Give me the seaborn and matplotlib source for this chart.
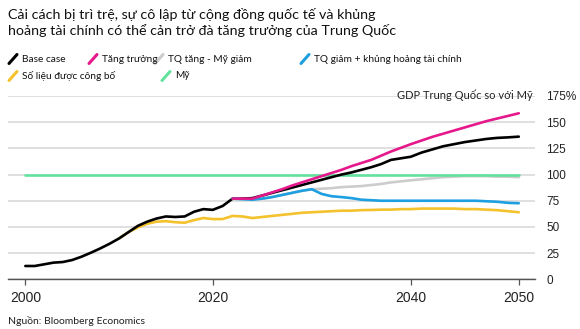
import numpy as np
import pandas as pd
import matplotlib
matplotlib.use("Agg")
import matplotlib.pyplot as plt
from matplotlib.lines import Line2D
import seaborn as sns

# ---------------- data ----------------
hist_years = list(range(2000, 2023))
base_hist = [12.7, 12.7, 14.3, 15.9, 16.5, 18.4, 21.6, 25.4, 29.5, 34.0, 39.0,
             45.0, 51.0, 55.0, 58.0, 60.0, 59.5, 60.0, 64.5, 67.0, 66.3, 70.0, 77.0]

proj_years = list(range(2022, 2051))
base_proj = [77.0, 77.0, 77.5, 80.0, 82.5, 85.0, 87.5, 90.0, 92.5, 95.0, 97.5,
             100.0, 102.0, 104.5, 107.0, 110.0, 114.0, 115.5, 117.0, 121.0, 124.0,
             127.0, 129.0, 131.0, 132.5, 134.0, 135.0, 135.5, 136.2]
growth = [77.0, 77.0, 77.0, 80.0, 83.0, 86.0, 89.5, 92.5, 95.5, 98.5, 101.5,
          104.5, 108.0, 111.0, 114.0, 118.0, 122.0, 125.5, 129.0, 132.5, 136.0,
          139.0, 142.0, 145.0, 148.0, 151.0, 153.5, 156.0, 158.5]
cn_up_us_down = [77.0, 76.5, 76.0, 77.0, 78.5, 80.5, 82.5, 84.5, 86.0, 86.5, 87.0,
                 88.0, 88.5, 89.0, 90.0, 91.0, 92.5, 93.5, 94.5, 95.5, 96.5,
                 97.5, 98.0, 98.5, 98.5, 98.5, 98.0, 98.0, 97.5]
cn_down_crisis = [77.0, 76.5, 76.0, 77.0, 78.5, 80.5, 82.5, 84.5, 86.0, 81.5, 79.3,
                  78.5, 77.5, 76.0, 75.5, 75.0, 75.0, 75.0, 75.0, 75.0, 75.0,
                  75.0, 75.0, 75.0, 75.0, 74.5, 74.0, 73.0, 72.6]

pub_years = list(range(2010, 2051))
published = [39.0, 45.0, 49.5, 53.0, 55.0, 55.5, 54.5, 54.0, 56.5, 58.5, 57.5,
             57.5, 60.5, 60.0, 58.5, 59.5, 60.5, 61.5, 62.5, 63.5, 64.0,
             64.5, 65.0, 65.5, 65.5, 66.0, 66.2, 66.5, 66.5, 67.0, 67.0,
             67.5, 67.5, 67.5, 67.5, 67.0, 67.0, 66.5, 66.0, 65.0, 64.0]

us_years = [2000, 2050]
us = [100.0, 100.0]

series_names = ["Base case", "Tăng trưởng", "TQ tăng - Mỹ giảm",
                "TQ giảm + khủng hoảng tài chính", "Số liệu được công bố", "Mỹ"]
colors = ["#000000", "#e5198b", "#cccccc", "#1d9fe0", "#f3c22c", "#63e29e"]

x_ticks = [2000, 2020, 2040, 2050]
y_ticks = [0, 25, 50, 75, 100, 125, 150, 175]
y_tick_labels = ["0", "25", "50", "75", "100", "125", "150", "175%"]

title = ("Cải cách bị trì trệ, sự cô lập từ cộng đồng quốc tế và khủng\n"
         "hoảng tài chính có thể cản trở đà tăng trưởng của Trung Quốc")
axis_note = "GDP Trung Quốc so với Mỹ"
source = "Nguồn: Bloomberg Economics"

# ---------------- long table ----------------
frames = [
    pd.DataFrame({"year": hist_years + proj_years[1:], "value": base_hist + base_proj[1:], "series": series_names[0]}),
    pd.DataFrame({"year": proj_years, "value": growth, "series": series_names[1]}),
    pd.DataFrame({"year": proj_years, "value": cn_up_us_down, "series": series_names[2]}),
    pd.DataFrame({"year": proj_years, "value": cn_down_crisis, "series": series_names[3]}),
    pd.DataFrame({"year": pub_years, "value": published, "series": series_names[4]}),
    pd.DataFrame({"year": us_years, "value": us, "series": series_names[5]}),
]
df = pd.concat(frames, ignore_index=True)
palette = dict(zip(series_names, colors))

# ---------------- figure ----------------
sns.set_theme(style="white")
plt.rcParams["font.family"] = ["Lato", "DejaVu Sans"]

fig = plt.figure(figsize=(5.8, 3.29), dpi=100)
W, H = 580, 329
ax = fig.add_axes([8 / W, 1 - 279.3 / H, (535 - 8) / W, (279.3 - 96) / H])

# x axis follows the reference's tick spacing
_yrs = np.array([1990, 2000, 2020, 2040, 2050, 2060], dtype=float)
_pix = np.array([-68.4, 25.3, 212.7, 410.7, 518.7, 626.7])
ax.set_xscale("function", functions=(lambda v: np.interp(v, _yrs, _pix),
                                     lambda p: np.interp(p, _pix, _yrs)))

draw_order = [series_names[2], series_names[5], series_names[4],
              series_names[0], series_names[3], series_names[1]]
for name in draw_order:
    sns.lineplot(data=df[df.series == name], x="year", y="value", color=palette[name],
                 lw=1.9, ax=ax, estimator=None, sort=False, legend=False)

ax.set_xlim(1998.15, 2051.5)
ax.set_ylim(0, 175)
ax.set_xlabel("")
ax.set_ylabel("")
ax.set_xticks(x_ticks)
ax.set_xticklabels([str(t) for t in x_ticks])
ax.yaxis.tick_right()
ax.set_yticks(y_ticks)
ax.set_yticklabels(y_tick_labels)
ax.grid(axis="y", color="#dddddd", lw=1.3, zorder=0)
ax.set_axisbelow(True)
for s in ["top", "left", "right"]:
    ax.spines[s].set_visible(False)
ax.spines["bottom"].set_color("#555555")
ax.spines["bottom"].set_linewidth(1.0)
ax.tick_params(axis="x", bottom=True, length=4.5, width=0.9, color="#555555",
               pad=4, labelsize=10, labelcolor="#222222")
ax.tick_params(axis="y", right=False, left=False, length=0, pad=8,
               labelsize=8.5, labelcolor="#222222")
for lab in ax.get_xticklabels() + ax.get_yticklabels():
    lab.set_family(["Liberation Sans", "DejaVu Sans"])
for lab in ax.get_yticklabels():
    lab.set_horizontalalignment("left")

# title
fig.text(8 / W, 1 - 8 / H, title, ha="left", va="top", fontsize=10.3,
         color="#111111", linespacing=1.25)

# legend (manual)
def legend_item(x0, yc, color, label):
    fig.add_artist(Line2D([x0 / W, (x0 + 8) / W], [1 - (yc + 4.5) / H, 1 - (yc - 4.5) / H],
                          color=color, lw=2.2, transform=fig.transFigure,
                          solid_capstyle="round"))
    fig.text((x0 + 13) / W, 1 - yc / H, label, ha="left", va="center",
             fontsize=7.3, color="#111111")

legend_item(9, 59, colors[0], series_names[0])
legend_item(89, 59, colors[1], series_names[1])
legend_item(155, 59, colors[2], series_names[2])
legend_item(301, 59, colors[3], series_names[3])
legend_item(9, 76, colors[4], series_names[4])
legend_item(162, 76, colors[5], series_names[5])

fig.text(533 / W, 1 - 95 / H, axis_note, ha="right", va="center", fontsize=8,
         color="#222222")
fig.text(8 / W, 1 - 321.5 / H, source, ha="left", va="center", fontsize=7.5,
         color="#222222")

fig.savefig("out.png", dpi=100)
